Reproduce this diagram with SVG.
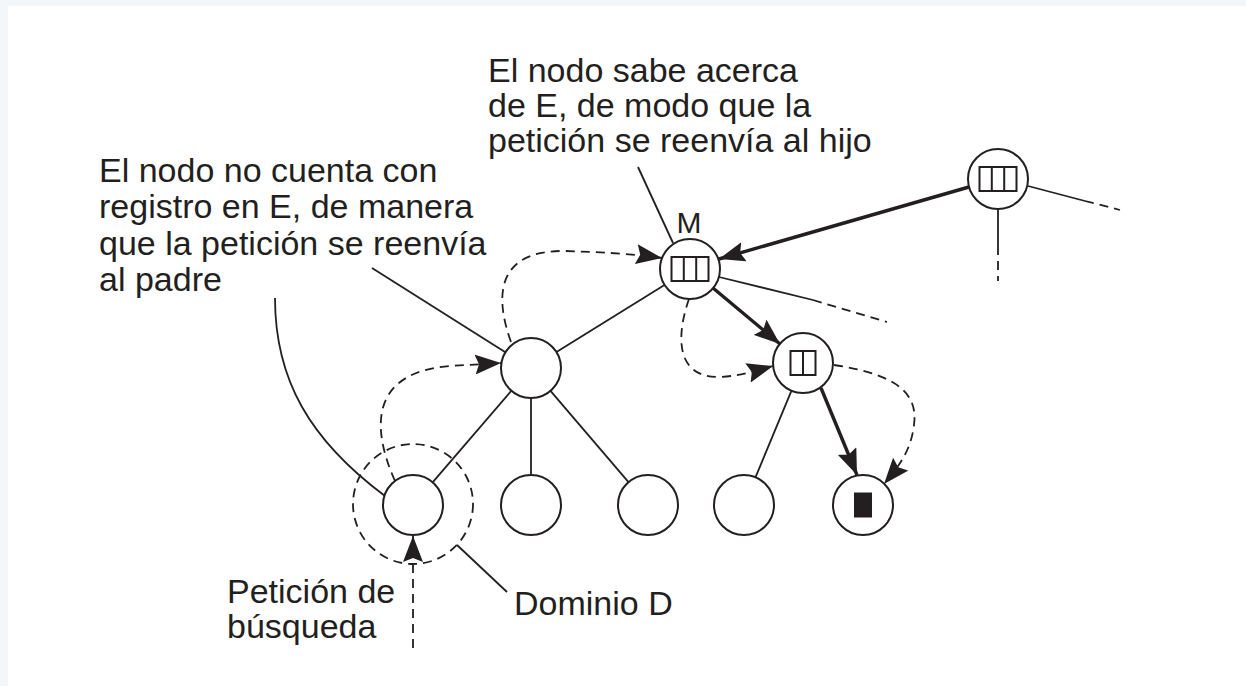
<svg xmlns="http://www.w3.org/2000/svg" width="1246" height="686" viewBox="0 0 1246 686">
<style>
  .bg { fill: #f4f7fa; }
  .node { fill: #ffffff; stroke: #231f20; stroke-width: 2; }
  .icon { fill: none; stroke: #231f20; stroke-width: 2; }
  .thin { fill: none; stroke: #231f20; stroke-width: 1.8; }
  .thick { fill: none; stroke: #231f20; stroke-width: 3.4; }
  .dash { fill: none; stroke: #231f20; stroke-width: 1.8; stroke-dasharray: 9 6; }
  .lbl { font-family: "Liberation Sans", Arial, sans-serif; font-size: 34px; fill: #231f20; }
</style>
<defs>
  <marker id="ah" viewBox="0 0 26 20" refX="26" refY="10" markerWidth="26" markerHeight="20" markerUnits="userSpaceOnUse" orient="auto">
    <path d="M0,0 L26,10 L0,20 L4,10 Z" fill="#231f20"/>
  </marker>
</defs>
<rect class="bg" x="0" y="0" width="1246" height="686"/>
<rect x="8" y="6" width="1238" height="680" fill="#ffffff"/>

<g id="connectors">
  <!-- tree edges -->
  <line class="thin" x1="664.5" y1="285" x2="556.5" y2="352"/>
  <line class="thin" x1="719" y1="277" x2="813" y2="300"/>
  <line class="dash" x1="813" y1="300" x2="887" y2="322"/>
  <line class="thin" x1="1028" y1="186" x2="1085" y2="201"/>
  <line class="dash" x1="1085" y1="201" x2="1120" y2="210"/>
  <line class="thin" x1="998" y1="209" x2="998" y2="255"/>
  <line class="dash" x1="998" y1="261" x2="998" y2="281"/>
  <line class="thin" x1="511.4" y1="390.7" x2="432.6" y2="482.3"/>
  <line class="thin" x1="531" y1="398" x2="531" y2="475"/>
  <line class="thin" x1="550.5" y1="390.8" x2="628.5" y2="482.2"/>
  <line class="thin" x1="791.5" y1="390.7" x2="755.5" y2="477.3"/>
  <!-- thick request path -->
  <line class="thick" x1="969" y1="187" x2="719" y2="259" marker-end="url(#ah)"/>
  <line class="thick" x1="713" y1="288" x2="780" y2="344" marker-end="url(#ah)"/>
  <line class="thick" x1="821" y1="388" x2="857" y2="475" marker-end="url(#ah)"/>
  <!-- dashed lookup arcs -->
  <path class="dash" d="M395,481 C370,425 372,372 450,366 L501,363" marker-end="url(#ah)"/>
  <path class="dash" d="M511,342 C494,295 497,250 565,251 C600,252 635,254 662,258" marker-end="url(#ah)"/>
  <path class="dash" d="M689,299 C678,330 672,378 720,377 C740,376 755,371 773,366" marker-end="url(#ah)"/>
  <path class="dash" d="M834,365 C900,375 918,395 914,425 C911,450 900,465 884,484" marker-end="url(#ah)"/>
  <line class="dash" x1="413" y1="648" x2="413" y2="536" marker-end="url(#ah)"/>
  <!-- leaders -->
  <line class="thin" x1="372" y1="268" x2="505" y2="352"/>
  <line class="thin" x1="638" y1="167" x2="673" y2="243"/>
  <path class="thin" d="M275,298 C275,380 310,440 385,496"/>
  <line class="thin" x1="457" y1="545" x2="507" y2="592"/>
</g>

<g id="domain-d">
  <circle class="dash" cx="413" cy="504" r="60"/>
</g>

<g id="node-top-right">
  <circle class="node" cx="998" cy="179" r="30"/>
  <rect class="icon" x="979.5" y="167" width="37" height="24"/>
  <line class="icon" x1="991.8" y1="167" x2="991.8" y2="191"/>
  <line class="icon" x1="1004.2" y1="167" x2="1004.2" y2="191"/>
</g>

<g id="node-m">
  <circle class="node" cx="690" cy="269" r="30"/>
  <rect class="icon" x="671.5" y="257" width="37" height="24"/>
  <line class="icon" x1="683.8" y1="257" x2="683.8" y2="281"/>
  <line class="icon" x1="696.2" y1="257" x2="696.2" y2="281"/>
  <text class="lbl" x="689" y="233" text-anchor="middle" style="font-size:30px">M</text>
</g>

<g id="node-mid">
  <circle class="node" cx="531" cy="368" r="30"/>
</g>

<g id="node-right">
  <circle class="node" cx="803" cy="363" r="30"/>
  <rect class="icon" x="790.5" y="351" width="25" height="24"/>
  <line class="icon" x1="803" y1="351" x2="803" y2="375"/>
</g>

<g id="leaf-1"><circle class="node" cx="413" cy="505" r="30"/></g>
<g id="leaf-2"><circle class="node" cx="531" cy="505" r="30"/></g>
<g id="leaf-3"><circle class="node" cx="648" cy="505" r="30"/></g>
<g id="leaf-4"><circle class="node" cx="744" cy="505" r="30"/></g>
<g id="leaf-5">
  <circle class="node" cx="863" cy="505" r="30"/>
  <rect x="854" y="492.5" width="18" height="25" fill="#231f20"/>
</g>

<g id="label-left">
  <text class="lbl" x="99" y="182">El nodo no cuenta con</text>
  <text class="lbl" x="99" y="218">registro en E, de manera</text>
  <text class="lbl" x="99" y="255">que la petición se reenvía</text>
  <text class="lbl" x="99" y="291">al padre</text>
</g>

<g id="label-top">
  <text class="lbl" x="488" y="82">El nodo sabe acerca</text>
  <text class="lbl" x="488" y="117">de E, de modo que la</text>
  <text class="lbl" x="488" y="152">petición se reenvía al hijo</text>
</g>

<g id="label-request">
  <text class="lbl" x="227" y="603">Petición de</text>
  <text class="lbl" x="227" y="638">búsqueda</text>
</g>

<g id="label-domain">
  <text class="lbl" x="514" y="615">Dominio D</text>
</g>
</svg>
